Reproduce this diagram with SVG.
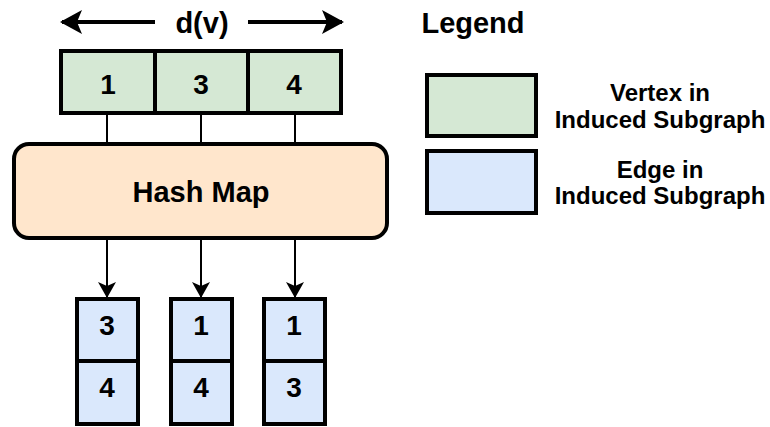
<svg xmlns="http://www.w3.org/2000/svg" width="770" height="427" viewBox="0 0 770 427">
<style>
text{font-family:"Liberation Sans",Arial,sans-serif;font-weight:bold;fill:#000;text-anchor:middle}
.box{stroke:#000;stroke-width:4}
.g{fill:#D5E8D4}.b{fill:#DAE8FC}.o{fill:#FFE6CC}
.n{font-size:28px}
.lg{font-size:24px}
.ln{stroke:#000;stroke-width:2;fill:none}
.ar{stroke:#000;stroke-width:4;fill:none}
</style>
<defs>
<marker id="big" markerWidth="22" markerHeight="26" refX="20" refY="13" orient="auto" markerUnits="userSpaceOnUse">
<path d="M0,1 L22,13 L0,25 L5,13 Z" fill="#000"/>
</marker>
<marker id="sm" markerWidth="16" markerHeight="18" refX="15" refY="9" orient="auto" markerUnits="userSpaceOnUse">
<path d="M0,0 L16,9 L0,18 L4,9 Z" fill="#000"/>
</marker>
</defs>
<rect width="770" height="427" fill="#fff"/>
<g id="connectors">
<line class="ar" x1="155" y1="22" x2="62" y2="22" marker-end="url(#big)"/>
<line class="ar" x1="248" y1="22" x2="342" y2="22" marker-end="url(#big)"/>
<line class="ln" x1="107" y1="113" x2="107" y2="143"/>
<line class="ln" x1="201" y1="113" x2="201" y2="143"/>
<line class="ln" x1="295" y1="113" x2="295" y2="143"/>
<line class="ln" x1="107" y1="238" x2="107" y2="297" marker-end="url(#sm)"/>
<line class="ln" x1="201" y1="238" x2="201" y2="297" marker-end="url(#sm)"/>
<line class="ln" x1="295" y1="238" x2="295" y2="297" marker-end="url(#sm)"/>
</g>
<g id="dv"><text x="202" y="33" font-size="29">d(v)</text></g>
<g id="vertices">
<rect class="box g" x="61" y="51" width="280" height="62"/>
<line class="box" x1="155" y1="51" x2="155" y2="113"/>
<line class="box" x1="248" y1="51" x2="248" y2="113"/>
<text class="n" x="108" y="94">1</text>
<text class="n" x="201" y="94">3</text>
<text class="n" x="294" y="94">4</text>
</g>
<g id="hashmap">
<rect class="box o" x="14" y="144" width="373" height="94" rx="15"/>
<text x="201" y="202" font-size="29">Hash Map</text>
</g>
<g id="edges1">
<rect class="box b" x="77" y="299" width="61" height="125"/>
<line class="box" x1="77" y1="361" x2="138" y2="361"/>
<text class="n" x="107" y="335">3</text>
<text class="n" x="107" y="397">4</text>
</g>
<g id="edges3">
<rect class="box b" x="171" y="299" width="61" height="125"/>
<line class="box" x1="171" y1="361" x2="232" y2="361"/>
<text class="n" x="201" y="335">1</text>
<text class="n" x="201" y="397">4</text>
</g>
<g id="edges4">
<rect class="box b" x="264" y="299" width="61" height="125"/>
<line class="box" x1="264" y1="361" x2="325" y2="361"/>
<text class="n" x="294" y="335">1</text>
<text class="n" x="294" y="397">3</text>
</g>
<g id="legend">
<text x="473" y="33" font-size="29">Legend</text>
<rect class="box g" x="427" y="75" width="109" height="61"/>
<rect class="box b" x="427" y="151" width="109" height="62"/>
<text class="lg" x="660" y="101">Vertex in</text>
<text class="lg" x="660" y="128">Induced Subgraph</text>
<text class="lg" x="660" y="178">Edge in</text>
<text class="lg" x="660" y="204">Induced Subgraph</text>
</g>
</svg>
